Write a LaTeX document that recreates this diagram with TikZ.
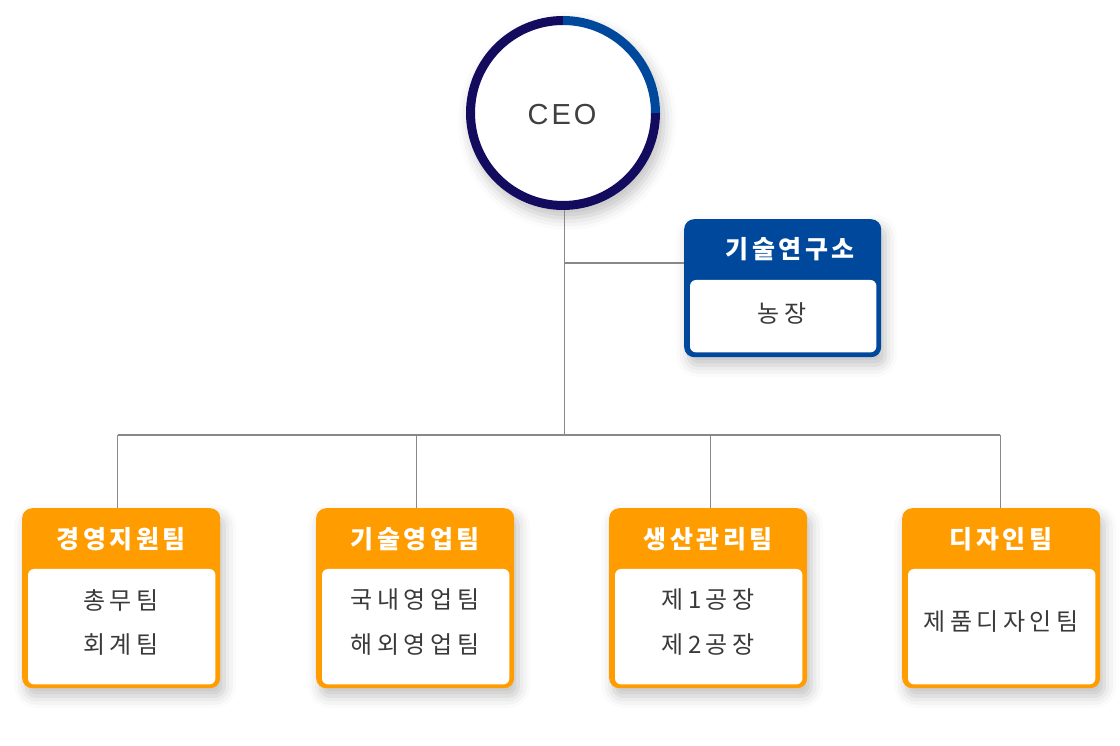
\documentclass[tikz,border=0pt]{standalone}
\usepackage{fontspec}
\setmainfont{Noto Sans CJK KR}
\newfontfamily\ceofont{Liberation Sans}
\usetikzlibrary{shadows.blur}
\definecolor{navy}{HTML}{120B5E}
\definecolor{labblue}{HTML}{00489B}
\definecolor{org}{HTML}{FF9C00}
\definecolor{conncol}{HTML}{888888}
\definecolor{txt}{HTML}{3A3A3A}
\definecolor{ceotxt}{HTML}{404040}
\def\lsk{4pt}
\def\lsp#1{\lspB#1\relax}
\def\lspB#1{#1\lspA}
\def\lspA#1{\ifx#1\relax\else\kern\lsk#1\expandafter\lspA\fi}
\begin{document}
\begin{tikzpicture}[x=1pt,y=1pt,
  softshadow/.style={blur shadow={shadow xshift=4pt, shadow yshift=-8pt, shadow blur radius=12pt, shadow opacity=24}},
  outerbox/.style={rounded corners=10pt, minimum width=198pt, minimum height=180pt, inner sep=0pt, softshadow},
  labbox/.style={rounded corners=10pt, minimum width=197pt, minimum height=138pt, inner sep=0pt, softshadow},
  head/.style={text=white, font=\fontsize{25}{28}\selectfont\bfseries\def\lsk{3.5pt}, inner sep=0pt},
  body/.style={text=txt, font=\fontsize{24}{27}\selectfont\def\lsk{4.5pt}, inner sep=0pt},
  conn/.style={draw=conncol, line width=1.1pt}]
\useasboundingbox (0,0) rectangle (1120,745);

% CEO circle
\node[circle, minimum size=194pt, inner sep=0pt, fill=white, softshadow] (ceo) at (563,632) {};
\node[text=ceotxt, font=\ceofont\fontsize{29}{30}\selectfont\def\lsk{3pt}, inner sep=0pt] (ceot) at (562,630) {\lsp{CEO}};
\draw[navy, line width=9pt] ([shift={(0:92.5)}]ceo.center) arc[start angle=0, end angle=-270, radius=92.5];
\draw[labblue, line width=9pt] ([shift={(90:92.5)}]ceo.center) arc[start angle=90, end angle=0, radius=92.5];

% research lab box
\node[labbox, fill=labblue, anchor=north west] (lab) at (684,526) {};
\fill[white, rounded corners=6pt] ([shift={(6,-61)}]lab.north west) rectangle ([shift={(-5,5)}]lab.south east);
\node[head] (labt) at (790,496) {\lsp{기술연구소}};
\node[body] (laba) at (782,432) {\lsp{농장}};

% team boxes
\newcommand\orgbox[3]{%
  \node[outerbox, fill=org, anchor=north west] (#1) at (#2,237) {};
  \fill[white, rounded corners=6pt] ([shift={(6,-61)}]#1.north west) rectangle ([shift={(-5,4)}]#1.south east);
  \node[head] (#1t) at ([yshift=-31pt]#1.north) {\lsp{#3}};
}
\orgbox{b1}{22}{경영지원팀}
\orgbox{b2}{316}{기술영업팀}
\orgbox{b3}{609}{생산관리팀}
\orgbox{b4}{902}{디자인팀}

\node[body] (b1a) at (121,145) {\lsp{총무팀}};
\node[body] (b1b) at (121,100) {\lsp{회계팀}};
\node[body] (b2a) at (415,145) {\lsp{국내영업팀}};
\node[body] (b2b) at (415,100) {\lsp{해외영업팀}};
\node[body] (b3a) at (708,145) {\lsp{제1공장}};
\node[body] (b3b) at (708,100) {\lsp{제2공장}};
\node[body] (b4a) at (1001,123) {\lsp{제품디자인팀}};

% connectors
\coordinate (jc) at (564.3,310);
\coordinate (jl) at (564.3,482);
\coordinate (h1) at (117.5,310);
\coordinate (h2) at (416.3,310);
\coordinate (h3) at (710.3,310);
\coordinate (h4) at (1000.3,310);
\draw[conn] (jc |- ceo.south) -- (jc);
\draw[conn] (jl) -- (jl -| lab.west);
\draw[conn] (h1) -- (h4);
\foreach \i in {1,2,3,4} \draw[conn] (h\i) -- (h\i |- b\i.north);
\end{tikzpicture}
\end{document}
